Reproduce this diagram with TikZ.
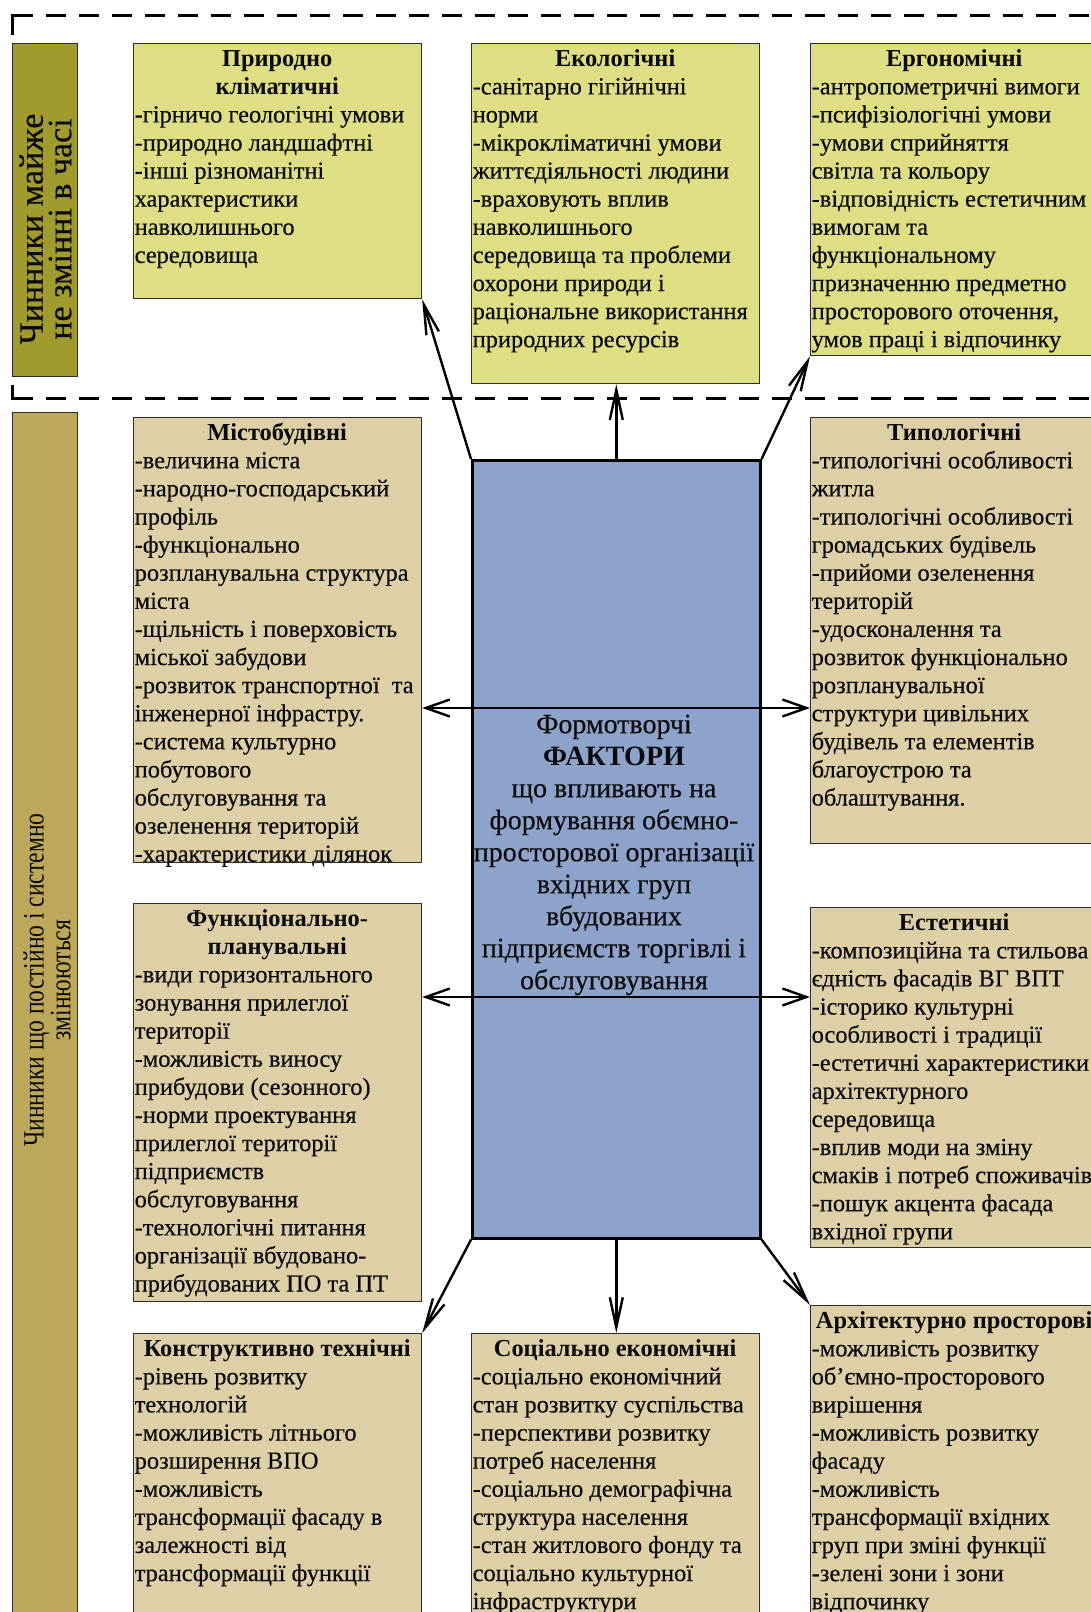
\documentclass[tikz,border=0pt]{standalone}
\usepackage{fontspec}
\setmainfont{Liberation Serif}[UprightFeatures={FakeBold=0.35}]
\newfontfamily\condserif{Liberation Serif}[FakeStretch=0.8]
\usetikzlibrary{arrows.meta}
\definecolor{barA}{RGB}{160,155,45}
\definecolor{topfill}{RGB}{222,222,132}
\definecolor{barB}{RGB}{189,167,88}
\definecolor{lowfill}{RGB}{221,208,167}
\definecolor{cenfill}{RGB}{142,163,203}
\definecolor{edge}{RGB}{45,45,45}
\definecolor{ink}{RGB}{10,10,10}
\newcommand{\boxtitle}[1]{\makebox[285pt][c]{\bfseries #1}}
\newcommand{\firstln}{\rule{0pt}{23pt}}
\begin{document}
\begin{tikzpicture}[x=1pt,y=-1pt,
  box/.style={draw=edge,line width=1.2pt,minimum width=288pt,inner sep=0pt,anchor=north west},
  topbox/.style={box,fill=topfill},
  lowbox/.style={box,fill=lowfill},
  cenbox/.style={box,fill=cenfill,draw=black,line width=2.6pt},
  barbox/.style={draw=edge,line width=1.2pt,minimum width=65pt,inner sep=0pt,anchor=north west},
  txt/.style={anchor=north west,inner sep=0pt,inner xsep=1.5pt,align=left,text=ink,font=\fontsize{24.4}{28.1}\selectfont},
  bartxt/.style={rotate=90,align=center,inner sep=0pt,text=ink},
  arr/.style={line width=2.4pt,-{Straight Barb[length=30pt,width=13pt]}},
  harr/.style={line width=2.4pt,{Straight Barb[length=24pt,width=17pt]}-{Straight Barb[length=24pt,width=17pt]}},
  dashline/.style={line width=3pt,dash pattern=on 20pt off 13pt}
]
\useasboundingbox (0,0) rectangle (1091,1612);
\clip (0,0) rectangle (1091,1612);
\fill[white] (0,0) rectangle (1091,1612);

% dashed frame of the upper zone
\draw[line width=3pt] (12,35) -- (12,15) -- (33,15);
\draw[dashline] (46,15) -- (1100,15);
\draw[line width=3pt] (12,385) -- (12,398) -- (33,398);
\draw[dashline] (46,398) -- (1100,398);

% side bars
\node[barbox,fill=barA,minimum height=333pt] (bar1) at (12,43) {};
\node[bartxt,font=\fontsize{34}{28.5}\selectfont] (bar1T) at (45.5,229) {Чинники майже\\не змінні в часі};
\node[barbox,fill=barB,minimum height=1230pt] (bar2) at (12,412) {};
\node[bartxt,font=\condserif\fontsize{29.5}{25.5}\selectfont] (bar2T) at (47,980) {Чинники що постійно і системно\\змінюються};

% upper boxes
\node[topbox,minimum height=255pt] (prir) at (133,43) {};
\node[txt] (prirT) at (prir.north west) {\firstln\boxtitle{Природно}\\
\boxtitle{кліматичні}\\
-гірничо геологічні умови\\
-природно ландшафтні\\
-інші різноманітні\\
характеристики\\
навколишнього\\
середовища};

\node[topbox,minimum height=340pt] (eko) at (471,43) {};
\node[txt] (ekoT) at (eko.north west) {\firstln\boxtitle{Екологічні}\\
-санітарно гігійнічні\\
норми\\
-мікрокліматичні умови\\
життєдіяльності людини\\
-враховують вплив\\
навколишнього\\
середовища та проблеми\\
охорони природи і\\
раціональне використання\\
природних ресурсів};

\node[topbox,minimum height=312pt] (ergo) at (810,43) {};
\node[txt] (ergoT) at (ergo.north west) {\firstln\boxtitle{Ергономічні}\\
-антропометричні вимоги\\
-псифізіологічні умови\\
-умови сприйняття\\
світла та кольору\\
-відповідність естетичним\\
вимогам та\\
функціональному\\
призначенню предметно\\
просторового оточення,\\
умов праці і відпочинку};

% central box
\node[cenbox,minimum height=778pt] (cen) at (471,459) {};

% middle boxes
\node[lowbox,minimum height=445pt] (mist) at (133,417) {};
\node[txt] (mistT) at (mist.north west) {\firstln\boxtitle{Містобудівні}\\
-величина міста\\
-народно-господарський\\
профіль\\
-функціонально\\
розпланувальна структура\\
міста\\
-щільність і поверховість\\
міської забудови\\
-розвиток транспортної\ \ та\\
інженерної інфрастру.\\
-система культурно\\
побутового\\
обслуговування та\\
озеленення територій\\
-характеристики ділянок};

\node[lowbox,minimum height=426pt] (typ) at (810,417) {};
\node[txt] (typT) at (typ.north west) {\firstln\boxtitle{Типологічні}\\
-типологічні особливості\\
житла\\
-типологічні особливості\\
громадських будівель\\
-прийоми озеленення\\
територій\\
-удосконалення та\\
розвиток функціонально\\
розпланувальної\\
структури цивільних\\
будівель та елементів\\
благоустрою та\\
облаштування.};

\node[lowbox,minimum height=398pt] (func) at (133,903) {};
\node[txt] (funcT) at (func.north west) {\firstln\boxtitle{Функціонально-}\\
\boxtitle{планувальні}\\
-види горизонтального\\
зонування прилеглої\\
території\\
-можливість виносу\\
прибудови (сезонного)\\
-норми проектування\\
прилеглої території\\
підприємств\\
обслуговування\\
-технологічні питання\\
організації вбудовано-\\
прибудованих ПО та ПТ};

\node[lowbox,minimum height=340pt] (est) at (810,907) {};
\node[txt] (estT) at (est.north west) {\firstln\boxtitle{Естетичні}\\
-композиційна та стильова\\
єдність фасадів ВГ ВПТ\\
-історико культурні\\
особливості і традиції\\
-естетичні характеристики\\
архітектурного\\
середовища\\
-вплив моди на зміну\\
смаків і потреб споживачів\\
-пошук акцента фасада\\
вхідної групи};

% bottom boxes
\node[lowbox,minimum height=310pt] (kon) at (133,1333) {};
\node[txt] (konT) at (kon.north west) {\firstln\boxtitle{Конструктивно технічні}\\
-рівень розвитку\\
технологій\\
-можливість літнього\\
розширення ВПО\\
-можливість\\
трансформації фасаду в\\
залежності від\\
трансформації функції};

\node[lowbox,minimum height=310pt] (soc) at (471,1333) {};
\node[txt] (socT) at (soc.north west) {\firstln\boxtitle{Соціально економічні}\\
-соціально економічний\\
стан розвитку суспільства\\
-перспективи розвитку\\
потреб населення\\
-соціально демографічна\\
структура населення\\
-стан житлового фонду та\\
соціально культурної\\
інфраструктури};

\node[lowbox,minimum height=340pt] (arch) at (810,1305) {};
\node[txt] (archT) at (arch.north west) {\firstln\boxtitle{Архітектурно просторові}\\
-можливість розвитку\\
об'ємно-просторового\\
вирішення\\
-можливість розвитку\\
фасаду\\
-можливість\\
трансформації вхідних\\
груп при зміні функції\\
-зелені зони і зони\\
відпочинку};

% connectors
\coordinate (h1) at (614,708);
\coordinate (h2) at (614,997);
\draw[harr] (mist.east |- h1) -- (typ.west |- h1);
\draw[harr] (func.east |- h2) -- (est.west |- h2);
\draw[arr] (cen.north west) -- (prir.south east);
\draw[arr] (cen.north) -- (cen.north |- eko.south);
\draw[arr] (cen.north east) -- (ergo.south west);
\draw[arr] (cen.south west) -- (kon.north east);
\draw[arr] (cen.south) -- (cen.south |- soc.north);
\draw[arr] (cen.south east) -- (arch.north west);

% central text
\node[align=center,inner sep=0pt,anchor=north,text=ink,font=\fontsize{28}{32}\selectfont] (cenT) at (614,709)
{\rule{0pt}{24pt}Формотворчі\\
\textbf{ФАКТОРИ}\\
що впливають на\\
формування обємно-\\
просторової організації\\
вхідних груп\\
вбудованих\\
підприємств торгівлі і\\
обслуговування};
\end{tikzpicture}
\end{document}
